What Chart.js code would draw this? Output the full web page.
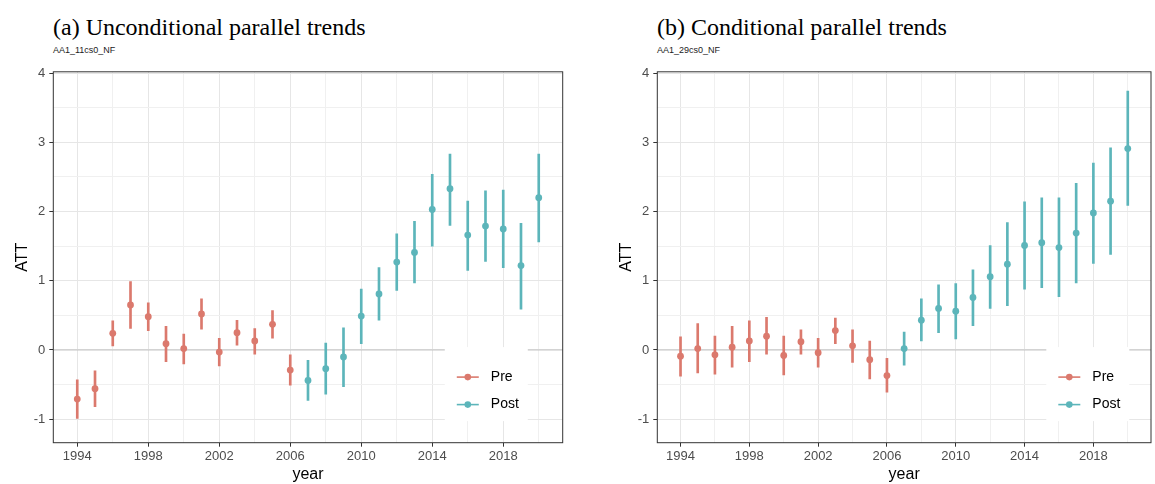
<!DOCTYPE html>
<html>
<head>
<meta charset="utf-8">
<script src="https://cdn.jsdelivr.net/npm/chart.js@4.4.0/dist/chart.umd.min.js"></script>
<style>
  body { margin: 0; width: 1155px; height: 484px; background: #fff; position: relative; overflow: hidden; }
  .titulo { position: absolute; top: 15px; font: 24px/24px "Liberation Serif", "Times New Roman", serif; color: #000; white-space: nowrap; }
  .sub { position: absolute; top: 46px; font: 9px/9px "Liberation Sans", Arial, sans-serif; color: #222; white-space: nowrap; }
  canvas { position: absolute; top: 60px; }
</style>
</head>
<body>
<div class="titulo" style="left:53px">(a) Unconditional parallel trends</div>
<div class="sub" style="left:53px">AA1_11cs0_NF</div>
<div class="titulo" style="left:657px">(b) Conditional parallel trends</div>
<div class="sub" style="left:657px">AA1_29cs0_NF</div>
<canvas id="panelA" width="570" height="424" style="left:0px"></canvas>
<canvas id="panelB" width="551" height="424" style="left:604px"></canvas>
<script>
// datos
const anios = [1994, 1995, 1996, 1997, 1998, 1999, 2000, 2001, 2002, 2003, 2004, 2005, 2006,
  2007, 2008, 2009, 2010, 2011, 2012, 2013, 2014, 2015, 2016, 2017, 2018, 2019, 2020];
const periodo = ['Pre', 'Pre', 'Pre', 'Pre', 'Pre', 'Pre', 'Pre', 'Pre', 'Pre', 'Pre', 'Pre', 'Pre', 'Pre',
  'Post', 'Post', 'Post', 'Post', 'Post', 'Post', 'Post', 'Post', 'Post', 'Post', 'Post', 'Post', 'Post', 'Post'];

// (a) incondicional
const attA = [-0.71, -0.56, 0.24, 0.65, 0.48, 0.09, 0.02, 0.52, -0.03, 0.25, 0.13, 0.37, -0.29,
  -0.44, -0.27, -0.10, 0.49, 0.81, 1.27, 1.41, 2.03, 2.33, 1.66, 1.79, 1.75, 1.22, 2.20];
const infA = [-0.99, -0.82, 0.06, 0.31, 0.28, -0.17, -0.20, 0.30, -0.23, 0.07, -0.06, 0.17, -0.51,
  -0.73, -0.64, -0.53, 0.09, 0.43, 0.86, 0.97, 1.50, 1.80, 1.15, 1.28, 1.19, 0.59, 1.56];
const supA = [-0.43, -0.30, 0.42, 0.99, 0.68, 0.34, 0.23, 0.74, 0.17, 0.43, 0.31, 0.57, -0.07,
  -0.15, 0.10, 0.32, 0.88, 1.19, 1.68, 1.86, 2.54, 2.83, 2.15, 2.30, 2.31, 1.83, 2.83];

// (b) condicional
const attB = [-0.09, 0.02, -0.07, 0.04, 0.13, 0.20, -0.08, 0.12, -0.04, 0.28, 0.06, -0.14, -0.37,
  0.02, 0.43, 0.60, 0.56, 0.76, 1.06, 1.24, 1.51, 1.55, 1.48, 1.69, 1.98, 2.15, 2.91];
const infB = [-0.38, -0.33, -0.35, -0.25, -0.17, -0.06, -0.36, -0.06, -0.25, 0.09, -0.18, -0.42, -0.61,
  -0.22, 0.13, 0.25, 0.16, 0.35, 0.60, 0.64, 0.88, 0.90, 0.77, 0.97, 1.25, 1.38, 2.09];
const supB = [0.19, 0.38, 0.20, 0.34, 0.42, 0.47, 0.20, 0.29, 0.17, 0.46, 0.29, 0.13, -0.12,
  0.26, 0.74, 0.94, 0.96, 1.16, 1.51, 1.84, 2.14, 2.20, 2.20, 2.41, 2.70, 2.92, 3.74];

const ticksX = [1994, 1998, 2002, 2006, 2010, 2014, 2018];
const ticksY = [-1, 0, 1, 2, 3, 4];
const grupos = ['Pre', 'Post'];

const colores = { Pre: '#DB796D', Post: '#5CB5BA' };
const fuente = '"Liberation Sans", Arial, sans-serif';

// borde del panel, linea del cero y leyenda dentro del panel
const marco = {
  id: 'marco',
  beforeDatasetsDraw(chart) {
    const { ctx, chartArea } = chart;
    const y0 = chart.scales.y.getPixelForValue(0);
    ctx.save();
    ctx.strokeStyle = '#C2C2C2';
    ctx.lineWidth = 1;
    ctx.beginPath();
    ctx.moveTo(chartArea.left, y0);
    ctx.lineTo(chartArea.right, y0);
    ctx.stroke();
    ctx.restore();
  },
  afterDraw(chart, args, opts) {
    const { ctx, chartArea } = chart;
    ctx.save();
    // leyenda
    const w = 83, h = 74;
    const cx = chartArea.left + opts.leyendaX * (chartArea.right - chartArea.left);
    const cy = chartArea.bottom - 0.158 * (chartArea.bottom - chartArea.top);
    const x0 = cx - w / 2, y0 = cy - h / 2;
    ctx.fillStyle = '#fff';
    ctx.fillRect(x0, y0, w, h);
    grupos.forEach((g, i) => {
      const yy = y0 + 30 + i * 27.5;
      ctx.strokeStyle = colores[g];
      ctx.lineWidth = 1.6;
      ctx.beginPath();
      ctx.moveTo(x0 + 12, yy);
      ctx.lineTo(x0 + 34, yy);
      ctx.stroke();
      ctx.fillStyle = colores[g];
      ctx.beginPath();
      ctx.arc(x0 + 23, yy, 3.3, 0, Math.PI * 2);
      ctx.fill();
      ctx.fillStyle = '#000';
      ctx.font = '14px ' + fuente;
      ctx.textBaseline = 'middle';
      ctx.fillText(g, x0 + 46, yy);
    });
    // borde
    ctx.strokeStyle = '#333';
    ctx.lineWidth = 1;
    ctx.strokeRect(chartArea.left, chartArea.top, chartArea.right - chartArea.left, chartArea.bottom - chartArea.top);
    ctx.restore();
  }
};

function esEntero(v) { return Math.abs(v - Math.round(v)) < 1e-6; }

function crearPanel(id, att, inf, sup, leyendaX, padDer) {
  const datasets = [];
  grupos.forEach(g => {
    datasets.push({
      type: 'scatter',
      label: g,
      data: anios.map((a, i) => ({ x: a, y: att[i] })).filter((p, i) => periodo[i] === g),
      pointRadius: 3.4,
      pointBackgroundColor: colores[g],
      pointBorderWidth: 0,
      showLine: false
    });
  });
  grupos.forEach(g => {
    datasets.push({
      type: 'bar',
      label: g + ' IC',
      data: anios.map((a, i) => ({ x: a, y: [inf[i], sup[i]] })).filter((p, i) => periodo[i] === g),
      backgroundColor: colores[g],
      barThickness: 2,
      grouped: false
    });
  });

  new Chart(document.getElementById(id), {
    type: 'scatter',
    data: { datasets },
    plugins: [marco],
    options: {
      responsive: false,
      animation: false,
      layout: { padding: { top: 6, right: padDer, left: 0, bottom: 0 } },
      plugins: {
        legend: { display: false },
        tooltip: { enabled: false },
        marco: { leyendaX }
      },
      scales: {
        x: {
          type: 'linear',
          min: 1992.65,
          max: 2021.35,
          offset: false,
          afterFit: s => { s.height = 41.3; },
          ticks: {
            stepSize: 2,
            includeBounds: false,
            autoSkip: false,
            maxRotation: 0,
            padding: 2,
            color: '#4D4D4D',
            font: { family: fuente, size: 13 },
            callback: v => ticksX.includes(v) ? String(v) : ''
          },
          grid: {
            offset: false,
            color: c => (c.tick && ticksX.includes(c.tick.value)) ? '#E6E6E6' : '#F0F0F0',
            tickColor: c => (c.tick && ticksX.includes(c.tick.value)) ? '#333' : 'rgba(0,0,0,0)',
            tickLength: 4
          },
          border: { display: false },
          title: {
            display: true,
            text: 'year',
            color: '#000',
            font: { family: fuente, size: 16 },
            padding: { top: 0, bottom: 0 }
          }
        },
        y: {
          min: -1.34,
          max: 4.02,
          afterFit: s => { s.width = 53.3; },
          ticks: {
            stepSize: 0.5,
            includeBounds: false,
            autoSkip: false,
            padding: 4,
            color: '#4D4D4D',
            font: { family: fuente, size: 13 },
            callback: v => (esEntero(v) && ticksY.includes(Math.round(v))) ? String(Math.round(v)) : ''
          },
          grid: {
            color: c => (c.tick && esEntero(c.tick.value)) ? '#E6E6E6' : '#F0F0F0',
            tickColor: c => (c.tick && esEntero(c.tick.value)) ? '#333' : 'rgba(0,0,0,0)',
            tickLength: 4
          },
          border: { display: false },
          title: {
            display: true,
            text: 'ATT',
            color: '#000',
            font: { family: fuente, size: 16 },
            padding: { top: 13, bottom: 0 }
          }
        }
      }
    }
  });
}

crearPanel('panelA', attA, infA, supA, 0.85, 7.3);
crearPanel('panelB', attB, infB, supB, 0.872, 1);
</script>
</body>
</html>
